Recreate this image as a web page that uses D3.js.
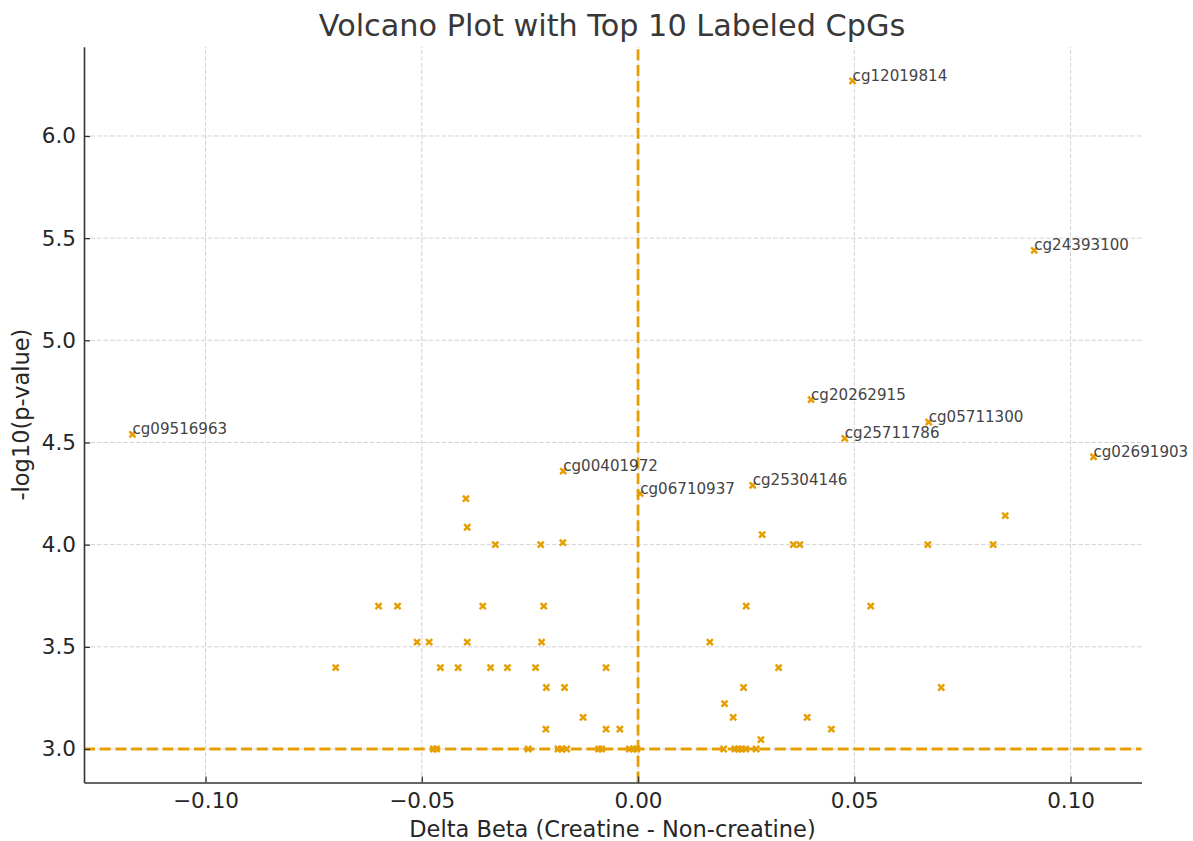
<!DOCTYPE html>
<html>
<head>
<meta charset="utf-8">
<script src="https://cdn.jsdelivr.net/npm/d3@7"></script>
<style>
    body { margin: 0; background: #fff; }
    text { font-family: "DejaVu Sans", sans-serif; }
</style>
</head>
<body>
<div id="chart"></div>
<script>
// top 10 labeled CpGs
var topNames = ["cg12019814", "cg24393100", "cg20262915", "cg05711300", "cg09516963",
    "cg25711786", "cg02691903", "cg00401972", "cg25304146", "cg06710937"];
var topDelta = [0.0496, 0.0916, 0.0400, 0.0672, -0.1169, 0.0478, 0.1053, -0.0173, 0.0265, 0.0005];
var topLogP = [6.27, 5.44, 4.71, 4.60, 4.54, 4.52, 4.43, 4.36, 4.29, 4.25];

// the rest of the significant CpGs
var otherDelta = [
    -0.0398, -0.0395, -0.0330, -0.0225, -0.0174, 0.0287, 0.0359, 0.0374, 0.0670, 0.0821, 0.0849,
    -0.0600, -0.0556, -0.0359, -0.0218, 0.0250, 0.0538,
    -0.0511, -0.0483, -0.0395, -0.0223, 0.0166,
    -0.0699, -0.0457, -0.0416, -0.0341, -0.0302, -0.0237, -0.0074, 0.0325,
    -0.0212, -0.0170, 0.0244, 0.0701,
    0.0200,
    -0.0127, 0.0220, 0.0391,
    -0.0213, -0.0074, -0.0042, 0.0447,
    0.0284,
    -0.0473, -0.0466, -0.0254, -0.0185, -0.0177, -0.0165, -0.0091, -0.0084, -0.0020, -0.0011, -0.0003,
    0.0198, 0.0224, 0.0232, 0.0240, 0.0249, 0.0273
];
var otherLogP = [
    4.225, 4.085, 4.0, 4.0, 4.01, 4.049, 4.0, 4.0, 4.0, 4.0, 4.142,
    3.699, 3.699, 3.699, 3.699, 3.699, 3.699,
    3.523, 3.523, 3.523, 3.523, 3.523,
    3.398, 3.398, 3.398, 3.398, 3.398, 3.398, 3.398, 3.398,
    3.301, 3.301, 3.301, 3.301,
    3.222,
    3.155, 3.155, 3.155,
    3.097, 3.097, 3.097, 3.097,
    3.046,
    3.0, 3.0, 3.0, 3.0, 3.0, 3.0, 3.0, 3.0, 3.0, 3.0, 3.0,
    3.0, 3.0, 3.0, 3.0, 3.0, 3.0
];

var xTicks = [-0.10, -0.05, 0.00, 0.05, 0.10];
var yTicks = [3.0, 3.5, 4.0, 4.5, 5.0, 5.5, 6.0];
var pThreshold = 3.0;
var deltaZero = 0;

var orange = "#E69F00";

var width = 1193,
    height = 841;

var svg = d3.select("#chart")
    .append("svg")
    .attr("width", width)
    .attr("height", height);

var x = d3.scaleLinear()
    .domain([-0.1281, 0.1164])
    .range([84, 1141.5]);

var y = d3.scaleLinear()
    .domain([2.836, 6.437])
    .range([782.5, 46.7]);

// grid
svg.append("g")
    .selectAll("line")
    .data(xTicks)
    .enter()
    .append("line")
    .attr("x1", d => x(d))
    .attr("x2", d => x(d))
    .attr("y1", y.range()[0])
    .attr("y2", y.range()[1])
    .attr("stroke", "#d3d3d3")
    .attr("stroke-width", 1)
    .attr("stroke-dasharray", "4.5,2");

svg.append("g")
    .selectAll("line")
    .data(yTicks)
    .enter()
    .append("line")
    .attr("x1", x.range()[0])
    .attr("x2", x.range()[1])
    .attr("y1", d => y(d))
    .attr("y2", d => y(d))
    .attr("stroke", "#d3d3d3")
    .attr("stroke-width", 1)
    .attr("stroke-dasharray", "4.5,2");

// threshold lines
svg.append("line")
    .attr("x1", x.range()[0])
    .attr("x2", x.range()[1])
    .attr("y1", y(pThreshold))
    .attr("y2", y(pThreshold))
    .attr("stroke", orange)
    .attr("stroke-width", 2.8)
    .attr("stroke-dasharray", "11,4.7");

svg.append("line")
    .attr("x1", x(deltaZero))
    .attr("x2", x(deltaZero))
    .attr("y1", y.range()[0])
    .attr("y2", y.range()[1])
    .attr("stroke", orange)
    .attr("stroke-width", 2.8)
    .attr("stroke-dasharray", "11,4.7");

// axes
var xAxis = svg.append("g")
    .attr("transform", "translate(0," + y.range()[0] + ")")
    .call(d3.axisBottom(x)
        .tickValues(xTicks)
        .tickFormat(d3.format(".2f"))
        .tickSizeInner(-6)
        .tickSizeOuter(0)
        .tickPadding(10));

var yAxis = svg.append("g")
    .attr("transform", "translate(" + x.range()[0] + ",0)")
    .call(d3.axisLeft(y)
        .tickValues(yTicks)
        .tickFormat(d3.format(".1f"))
        .tickSizeInner(-6)
        .tickSizeOuter(0)
        .tickPadding(8));

[xAxis, yAxis].forEach(function(ax) {
    ax.attr("font-family", "DejaVu Sans").attr("font-size", 21.5);
    ax.select(".domain").attr("stroke", "#333").attr("stroke-width", 1.6);
    ax.selectAll(".tick line").attr("stroke", "#333").attr("stroke-width", 1.3);
    ax.selectAll(".tick text").attr("fill", "#262626");
});

// points
var symbol = d3.symbol().type(d3.symbolX).size(26);

svg.append("g")
    .selectAll("path")
    .data(otherDelta)
    .enter()
    .append("path")
    .attr("transform", (d, i) => "translate(" + x(d) + "," + y(otherLogP[i]) + ")")
    .attr("d", symbol)
    .attr("fill", "none")
    .attr("stroke", orange)
    .attr("stroke-width", 2.5);

var topGroup = svg.append("g");

topGroup.selectAll("path")
    .data(topDelta)
    .enter()
    .append("path")
    .attr("transform", (d, i) => "translate(" + x(d) + "," + y(topLogP[i]) + ")")
    .attr("d", symbol)
    .attr("fill", "none")
    .attr("stroke", orange)
    .attr("stroke-width", 2.5);

topGroup.selectAll("text")
    .data(topNames)
    .enter()
    .append("text")
    .attr("x", (d, i) => x(topDelta[i]))
    .attr("y", (d, i) => y(topLogP[i]))
    .attr("font-size", 15.1)
    .attr("fill", "#444")
    .text(d => d);

// titles
svg.append("text")
    .attr("x", 612)
    .attr("y", 36)
    .attr("text-anchor", "middle")
    .attr("font-size", 30.3)
    .attr("fill", "#383838")
    .text("Volcano Plot with Top 10 Labeled CpGs");

svg.append("text")
    .attr("x", 612.5)
    .attr("y", 836.5)
    .attr("text-anchor", "middle")
    .attr("font-size", 22.5)
    .attr("fill", "#262626")
    .text("Delta Beta (Creatine - Non-creatine)");

svg.append("text")
    .attr("transform", "translate(28.5," + ((y.range()[0] + y.range()[1]) / 2) + ") rotate(-90)")
    .attr("text-anchor", "middle")
    .attr("font-size", 22.5)
    .attr("fill", "#262626")
    .text("-log10(p-value)");
</script>
</body>
</html>
